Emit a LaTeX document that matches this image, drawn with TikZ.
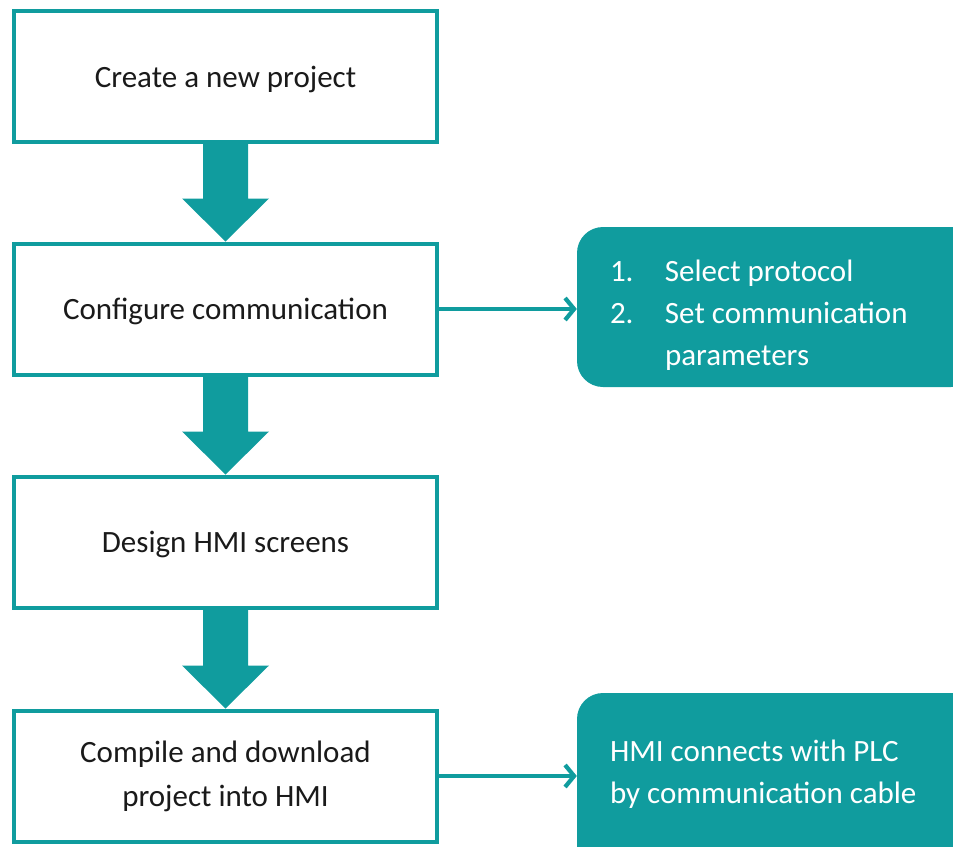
\documentclass[tikz,border=0pt]{standalone}
\usepackage{fontspec}
\setmainfont{Carlito}
\usetikzlibrary{calc,arrows.meta}
\definecolor{tl}{HTML}{109C9E}
\definecolor{txt}{HTML}{1A1A1A}
\tikzset{
  stepbox/.style={draw=tl, line width=4pt, fill=white, minimum width=423pt, minimum height=131pt, inner sep=0pt, align=center, text=txt, font=\fontsize{31}{44}\selectfont},
  panel/.style={fill=tl, rounded corners=26pt, minimum width=400pt, inner sep=0pt},
  paneltext/.style={text=white, align=left, anchor=west, inner sep=0pt, font=\fontsize{31}{42}\selectfont},
  conn/.style={draw=tl, line width=4.2pt, -{Straight Barb[length=9pt,width=22pt,line width=4.2pt]}},
  blockarrow/.style={fill=tl}
}
\newcommand{\blockarrow}[2]{%
  \fill[blockarrow] ($(#1.south)+(-22.5,0)$) -- ($(#1.south)+(22.5,0)$)
    -- ($(#2.north)+(22.5,-43)$) -- ($(#2.north)+(43.5,-43)$) -- (#2.north)
    -- ($(#2.north)+(-43.5,-43)$) -- ($(#2.north)+(-22.5,-43)$) -- cycle;}
\begin{document}
\begin{tikzpicture}[x=1pt,y=-1pt]
\clip (0,0) rectangle (953,846);
\useasboundingbox (0,0) rectangle (953,846);
\node[stepbox, text depth=-3pt] (b1) at (225.5,76.5) {Create a new project};
\node[stepbox, text depth=-3pt] (b2) at (225.5,309) {Configure communication};
\node[stepbox, text depth=-3pt] (b3) at (225.5,542) {Design HMI screens};
\node[stepbox] (b4) at (225.5,776) {Compile and download\\project into HMI};
\blockarrow{b1}{b2}
\blockarrow{b2}{b3}
\blockarrow{b3}{b4}
\node[panel, minimum height=160pt] (p1) at (777,307) {};
\node[panel, minimum height=200pt] (p2) at (777,793) {};
\node[paneltext] (t1) at ($(p1.west)+(33,8)$) {\makebox[55pt][l]{1.}Select protocol\\\makebox[55pt][l]{2.}Set communication\\\makebox[55pt][l]{}parameters};
\node[paneltext] (t2) at ($(p2.west)+(33,-19)$) {HMI connects with PLC\\by communication cable};
\draw[conn] (b2.east) -- (b2.east -| p1.west);
\draw[conn] (b4.east) -- (b4.east -| p2.west);
\end{tikzpicture}
\end{document}
